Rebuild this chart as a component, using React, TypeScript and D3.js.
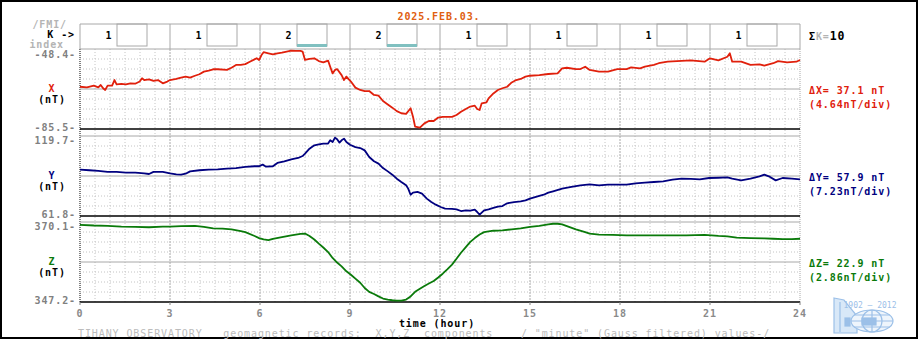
import React from 'react';
import * as d3 from 'd3';

// --- data ---
const dateLabel = '2025.FEB.03.';
const kIndex = [1, 1, 2, 2, 1, 1, 1, 1];
const kSum = 10;
const hourTicks = [0, 3, 6, 9, 12, 15, 18, 21, 24];
const compNames = ['X', 'Y', 'Z'];
const compColors = ['#e0200c', '#000080', '#0a7a0a'];
const compDomains: [number, number][] = [[-85.5, -48.4], [61.8, 119.7], [347.2, 370.1]];
const compTopLabels = ['-48.4', '119.7', '370.1'];
const compBottomLabels = ['-85.5', '61.8', '347.2'];
const compDelta = ['37.1', '57.9', '22.9'];
const compPerDiv = ['4.64', '7.23', '2.86'];

const xComp: [number, number][] = [[0,-65.9],[0.23,-66.2],[0.46,-65.4],[0.61,-66.2],[0.69,-65.1],[0.77,-66.6],[0.84,-67.4],[0.92,-65.4],[1.07,-65.4],[1.15,-62.8],[1.22,-64.8],[1.38,-64.6],[1.53,-64.8],[1.68,-64.3],[1.84,-64.5],[1.99,-63.5],[2.07,-62.0],[2.14,-62.8],[2.30,-62.5],[2.45,-63.2],[2.60,-62.8],[2.76,-64.3],[2.91,-63.5],[3.00,-62.8],[3.21,-62.3],[3.37,-61.7],[3.52,-61.2],[3.67,-61.7],[3.83,-60.8],[3.98,-60.1],[4.13,-58.9],[4.29,-58.4],[4.44,-57.8],[4.59,-57.8],[4.90,-58.1],[5.05,-57.1],[5.20,-55.8],[5.36,-55.8],[5.51,-55.4],[5.66,-54.3],[5.89,-52.7],[5.97,-53.5],[6.05,-51.2],[6.12,-49.9],[6.28,-50.4],[6.43,-50.9],[6.58,-50.4],[6.73,-50.1],[6.89,-49.6],[7.04,-49.2],[7.19,-49.3],[7.35,-49.3],[7.42,-49.6],[7.50,-53.5],[7.65,-53.0],[7.81,-52.7],[7.96,-54.0],[8.11,-54.6],[8.27,-53.8],[8.34,-56.6],[8.42,-59.7],[8.50,-58.1],[8.57,-57.7],[8.72,-60.5],[8.80,-62.8],[8.88,-61.2],[9.03,-63.5],[9.18,-66.3],[9.34,-67.4],[9.49,-67.9],[9.64,-67.9],[9.80,-69.7],[9.95,-70.0],[10.10,-72.5],[10.26,-74.1],[10.41,-75.6],[10.56,-77.2],[10.71,-78.2],[10.87,-78.5],[11.02,-75.9],[11.10,-79.8],[11.17,-84.4],[11.33,-84.9],[11.48,-82.9],[11.63,-81.8],[11.79,-81.8],[11.94,-80.2],[12.09,-79.9],[12.40,-79.9],[12.55,-79.0],[12.70,-77.5],[12.86,-76.2],[13.01,-75.1],[13.16,-74.7],[13.24,-76.2],[13.32,-76.7],[13.39,-73.6],[13.55,-73.1],[13.62,-71.3],[13.78,-69.0],[13.93,-67.4],[14.08,-66.6],[14.24,-65.9],[14.39,-63.9],[14.54,-62.8],[14.69,-62.3],[14.85,-61.2],[15.00,-60.8],[15.31,-60.5],[15.61,-60.0],[15.92,-59.7],[16.07,-57.4],[16.23,-57.1],[16.53,-57.7],[16.68,-57.7],[16.84,-56.6],[16.99,-58.1],[17.30,-58.9],[17.60,-58.9],[17.91,-57.7],[18.22,-57.7],[18.37,-56.9],[18.67,-57.4],[18.83,-56.6],[19.13,-55.8],[19.29,-55.0],[19.59,-54.3],[19.90,-54.0],[20.36,-53.7],[20.82,-54.3],[21.00,-52.7],[21.28,-53.7],[21.58,-52.0],[21.66,-50.4],[21.74,-54.3],[22.04,-54.3],[22.35,-55.8],[22.65,-55.5],[22.81,-56.1],[23.11,-55.0],[23.27,-54.0],[23.57,-54.6],[23.88,-54.3],[24.00,-53.5]];

const yComp: [number, number][] = [[0,95.3],[0.31,94.9],[0.61,94.4],[0.92,93.7],[1.22,93.7],[1.53,93.2],[1.84,93.2],[2.14,92.7],[2.30,92.2],[2.45,93.7],[2.76,93.7],[3.00,92.7],[3.21,92.0],[3.37,91.7],[3.52,92.4],[3.67,94.1],[3.98,94.9],[4.29,95.3],[4.59,95.6],[4.90,96.1],[5.20,96.5],[5.51,97.3],[5.82,97.8],[5.97,97.8],[6.09,99.0],[6.20,97.5],[6.43,97.8],[6.58,100.2],[6.81,101.4],[7.04,102.8],[7.27,103.8],[7.42,105.2],[7.50,106.9],[7.65,110.5],[7.81,113.0],[7.96,113.7],[8.11,114.2],[8.27,114.2],[8.34,116.6],[8.42,115.4],[8.50,118.5],[8.57,117.3],[8.65,114.9],[8.72,116.6],[8.80,117.8],[8.88,115.4],[9.00,113.4],[9.18,111.7],[9.34,111.0],[9.49,109.3],[9.64,104.5],[9.80,101.4],[9.95,99.7],[10.10,96.5],[10.26,94.1],[10.41,91.7],[10.56,88.8],[10.71,86.4],[10.87,84.0],[10.94,81.6],[11.02,77.2],[11.10,78.7],[11.25,79.2],[11.40,78.0],[11.56,74.4],[11.71,71.9],[11.86,70.0],[12.02,68.3],[12.17,67.1],[12.40,66.9],[12.55,66.6],[12.70,65.4],[12.86,65.9],[13.01,65.7],[13.16,66.4],[13.24,64.7],[13.32,62.8],[13.47,65.9],[13.62,66.6],[13.78,67.6],[13.93,68.6],[14.08,69.0],[14.24,71.0],[14.47,71.9],[14.69,72.4],[14.85,73.1],[15.00,74.4],[15.31,76.3],[15.46,77.2],[15.61,78.7],[15.77,79.7],[16.07,81.6],[16.38,82.8],[16.68,84.0],[16.99,84.7],[17.30,84.0],[17.60,84.5],[17.91,84.5],[18.22,84.5],[18.52,85.4],[18.83,85.9],[19.13,86.4],[19.44,86.9],[19.75,88.1],[20.05,88.8],[20.36,88.6],[20.66,88.3],[20.97,89.3],[21.28,89.5],[21.58,89.8],[21.74,88.8],[22.04,87.6],[22.35,88.8],[22.65,90.5],[22.81,91.7],[22.96,90.5],[23.19,87.6],[23.42,89.3],[23.73,88.8],[24.00,88.3]];

const zComp: [number, number][] = [[0,369.3],[0.46,369.1],[0.92,369.0],[1.38,368.8],[1.84,368.7],[2.30,368.6],[2.76,368.8],[3.00,368.8],[3.37,368.9],[3.83,369.0],[4.13,368.7],[4.44,368.3],[4.75,368.2],[5.05,368.0],[5.36,367.5],[5.51,367.2],[5.82,366.1],[5.97,365.5],[6.12,365.1],[6.28,364.9],[6.43,365.3],[6.73,365.8],[7.04,366.3],[7.35,366.7],[7.50,366.8],[7.65,366.1],[7.81,365.1],[7.96,363.9],[8.11,362.8],[8.27,361.5],[8.42,359.8],[8.57,358.5],[8.72,357.4],[8.88,356.0],[9.03,355.0],[9.18,353.9],[9.34,352.7],[9.49,351.2],[9.64,350.1],[9.80,349.5],[9.95,348.8],[10.10,348.2],[10.26,347.9],[10.41,347.7],[10.56,347.6],[10.71,347.6],[10.87,347.9],[11.02,348.8],[11.17,350.1],[11.33,351.0],[11.48,351.8],[11.63,352.5],[11.79,353.2],[11.94,354.2],[12.09,355.3],[12.25,356.6],[12.40,357.9],[12.55,359.6],[12.70,361.3],[12.86,362.9],[13.01,364.4],[13.16,365.5],[13.32,366.5],[13.47,367.2],[13.62,367.4],[13.78,367.6],[14.08,367.7],[14.39,368.0],[14.69,368.3],[15.00,368.7],[15.31,369.0],[15.61,369.4],[15.77,369.6],[15.92,369.6],[16.07,369.4],[16.23,368.9],[16.53,368.0],[16.84,367.2],[16.99,366.8],[17.30,366.5],[17.76,366.4],[18.22,366.3],[18.67,366.3],[19.13,366.3],[19.59,366.3],[20.21,366.3],[20.82,366.4],[21.28,366.1],[21.58,366.0],[21.89,365.6],[22.35,365.5],[22.81,365.4],[23.11,365.3],[23.42,365.2],[23.73,365.2],[24.00,365.3]];

const series = [xComp, yComp, zComp];
const footer = 'TIHANY OBSERVATORY   geomagnetic records:  X,Y,Z  components    / "minute" (Gauss filtered) values-/';

// layout
const W = 920, H = 340;
const left = 80, right = 800;
const kTop = 24, kBottom = 49;
const panelTops = [49, 136, 222];
const panelH = 80;
const font = "'DejaVu Sans Mono', monospace";
const gridGray = '#a8a8a8';
const lightGray = '#c4c4c4';

export default function App() {
  const x = d3.scaleLinear().domain([0, 24]).range([left, right]);
  const halfHours = d3.range(0.5, 24, 0.5).filter(h => h % 3 !== 0);

  return (
    <svg width={W} height={H} style={{ position: 'absolute', left: 0, top: 0, background: '#fff' }}
      fontFamily={font} fontSize={10} letterSpacing={0.9} fontWeight="bold">
      <rect x={1} y={1} width={916} height={337} fill="#fff" stroke="#000" strokeWidth={2} />

      <text x={439} y={16} textAnchor="middle" dy="0.35em" fill="#e06010">{dateLabel}</text>

      {/* K index row */}
      <text x={67} y={24} textAnchor="end" dy="0.35em" fill="#b4b4b4">/FMI/</text>
      <text x={75} y={34} textAnchor="end" dy="0.35em" fill="#000">K -&gt;</text>
      <text x={64} y={44} textAnchor="end" dy="0.35em" fill="#b4b4b4">index</text>
      <line x1={left} x2={right} y1={kTop} y2={kTop} stroke={gridGray} />
      {kIndex.map((k, i) => {
        const s = x(i * 3);
        return (
          <g key={'k' + i}>
            <line x1={s} x2={s} y1={kTop} y2={kBottom} stroke={gridGray} />
            <rect x={s + 37} y={kTop} width={30} height={22} fill="none" stroke={gridGray} />
            {k >= 2 && <rect x={s + 37} y={kTop + 20} width={30} height={3} fill="#80c0c0" />}
            <text x={s + 29} y={35} textAnchor="middle" dy="0.35em" fill="#000">{k}</text>
          </g>
        );
      })}
      <line x1={right} x2={right} y1={kTop} y2={kBottom} stroke={gridGray} />
      <text x={809} y={36} dy="0.35em" fill="#000">Σ<tspan fill="#b4b4b4">K=</tspan><tspan fontSize={11.5}>{kSum}</tspan></text>

      {/* vertical grid */}
      {halfHours.map(h => (
        <line key={'v' + h} x1={x(h)} x2={x(h)} y1={kBottom} y2={302} stroke={lightGray} strokeDasharray="1,2" />
      ))}
      {hourTicks.slice(1, -1).map(h => (
        <line key={'V' + h} x1={x(h)} x2={x(h)} y1={kBottom} y2={302} stroke={gridGray} strokeDasharray="2,1" />
      ))}
      <line x1={left} x2={left} y1={kBottom} y2={302} stroke="#000" strokeDasharray="1,1" />
      <line x1={right} x2={right} y1={kBottom} y2={302} stroke={gridGray} strokeDasharray="1,1" />

      {/* panels */}
      {compNames.map((name, i) => {
        const top = panelTops[i];
        const bottom = top + panelH;
        const y = d3.scaleLinear().domain(compDomains[i]).range([bottom, top]);
        const line = d3.line<[number, number]>().x(d => x(d[0])).y(d => y(d[1]));
        const mid = (top + bottom) / 2;
        return (
          <g key={name}>
            {d3.range(1, 8).filter(j => j !== 4).map(j => (
              <line key={j} x1={left} x2={right} y1={top + j * 10} y2={top + j * 10} stroke={lightGray} strokeDasharray="1,2" />
            ))}
            <line x1={left} x2={right} y1={top} y2={top} stroke={gridGray} />
            <line x1={left} x2={right} y1={mid} y2={mid} stroke={gridGray} />
            <line x1={left} x2={right} y1={bottom} y2={bottom} stroke="#000" strokeWidth={1.5} />
            <path d={line(series[i]) || ''} fill="none" stroke={compColors[i]} strokeWidth={1.8} strokeLinejoin="round" />

            <text x={76} y={top + (i === 0 ? 5 : 4)} textAnchor="end" dy="0.35em" fill="#808080">{compTopLabels[i]}-</text>
            <text x={76} y={bottom - 2} textAnchor="end" dy="0.35em" fill="#808080">{compBottomLabels[i]}-</text>
            <text x={52} y={mid - 0.5} textAnchor="middle" dy="0.35em" fill={compColors[i]}>{name}</text>
            <text x={52} y={mid + 10.5} textAnchor="middle" dy="0.35em" fill="#000">(nT)</text>

            <text x={809} y={mid + 1} dy="0.35em" fill={compColors[i]}>Δ{name}= {compDelta[i]} nT</text>
            <text x={809} y={mid + 15} dy="0.35em" fill={compColors[i]}>({compPerDiv[i]}nT/div)</text>
          </g>
        );
      })}

      {/* time axis */}
      {hourTicks.map(h => (
        <g key={'t' + h}>
          <line x1={x(h)} x2={x(h)} y1={302} y2={305} stroke="#808080" />
          <text x={x(h)} y={313} textAnchor="middle" dy="0.35em" fill="#8a8a8a">{h}</text>
        </g>
      ))}
      <text x={437} y={323.5} textAnchor="middle" dy="0.35em" fill="#000">time (hour)</text>
      <text x={78} y={333.5} dy="0.35em" fill="#bcbcbc" fontWeight="normal" style={{ whiteSpace: 'pre' }}>{footer}</text>

      {/* observatory logo */}
      <g fill="none" stroke="#9cc0e8" strokeWidth={1.2}>
        <polygon points="834,298 844,300 857,316 857,333 834,333" fill="#d8e8f8" />
        <line x1={840} x2={840} y1={302} y2={332} />
        <rect x={845} y={318} width={5} height={8} fill="#9cc0e8" />
        <ellipse cx={872} cy={321} rx={21} ry={11} fill="#eef5fc" />
        <ellipse cx={872} cy={321} rx={10} ry={11} />
        <line x1={851} x2={893} y1={321} y2={321} />
        <line x1={872} x2={872} y1={310} y2={332} />
        <line x1={854} x2={890} y1={315} y2={315} />
        <line x1={854} x2={890} y1={327} y2={327} />
        <rect x={862} y={318} width={14} height={7} fill="#9cc0e8" />
      </g>
      <text x={870} y={305} textAnchor="middle" dy="0.35em" fill="#9cc0e8" fontSize={8} letterSpacing={0} fontWeight="normal">1902 — 2012</text>
    </svg>
  );
}
